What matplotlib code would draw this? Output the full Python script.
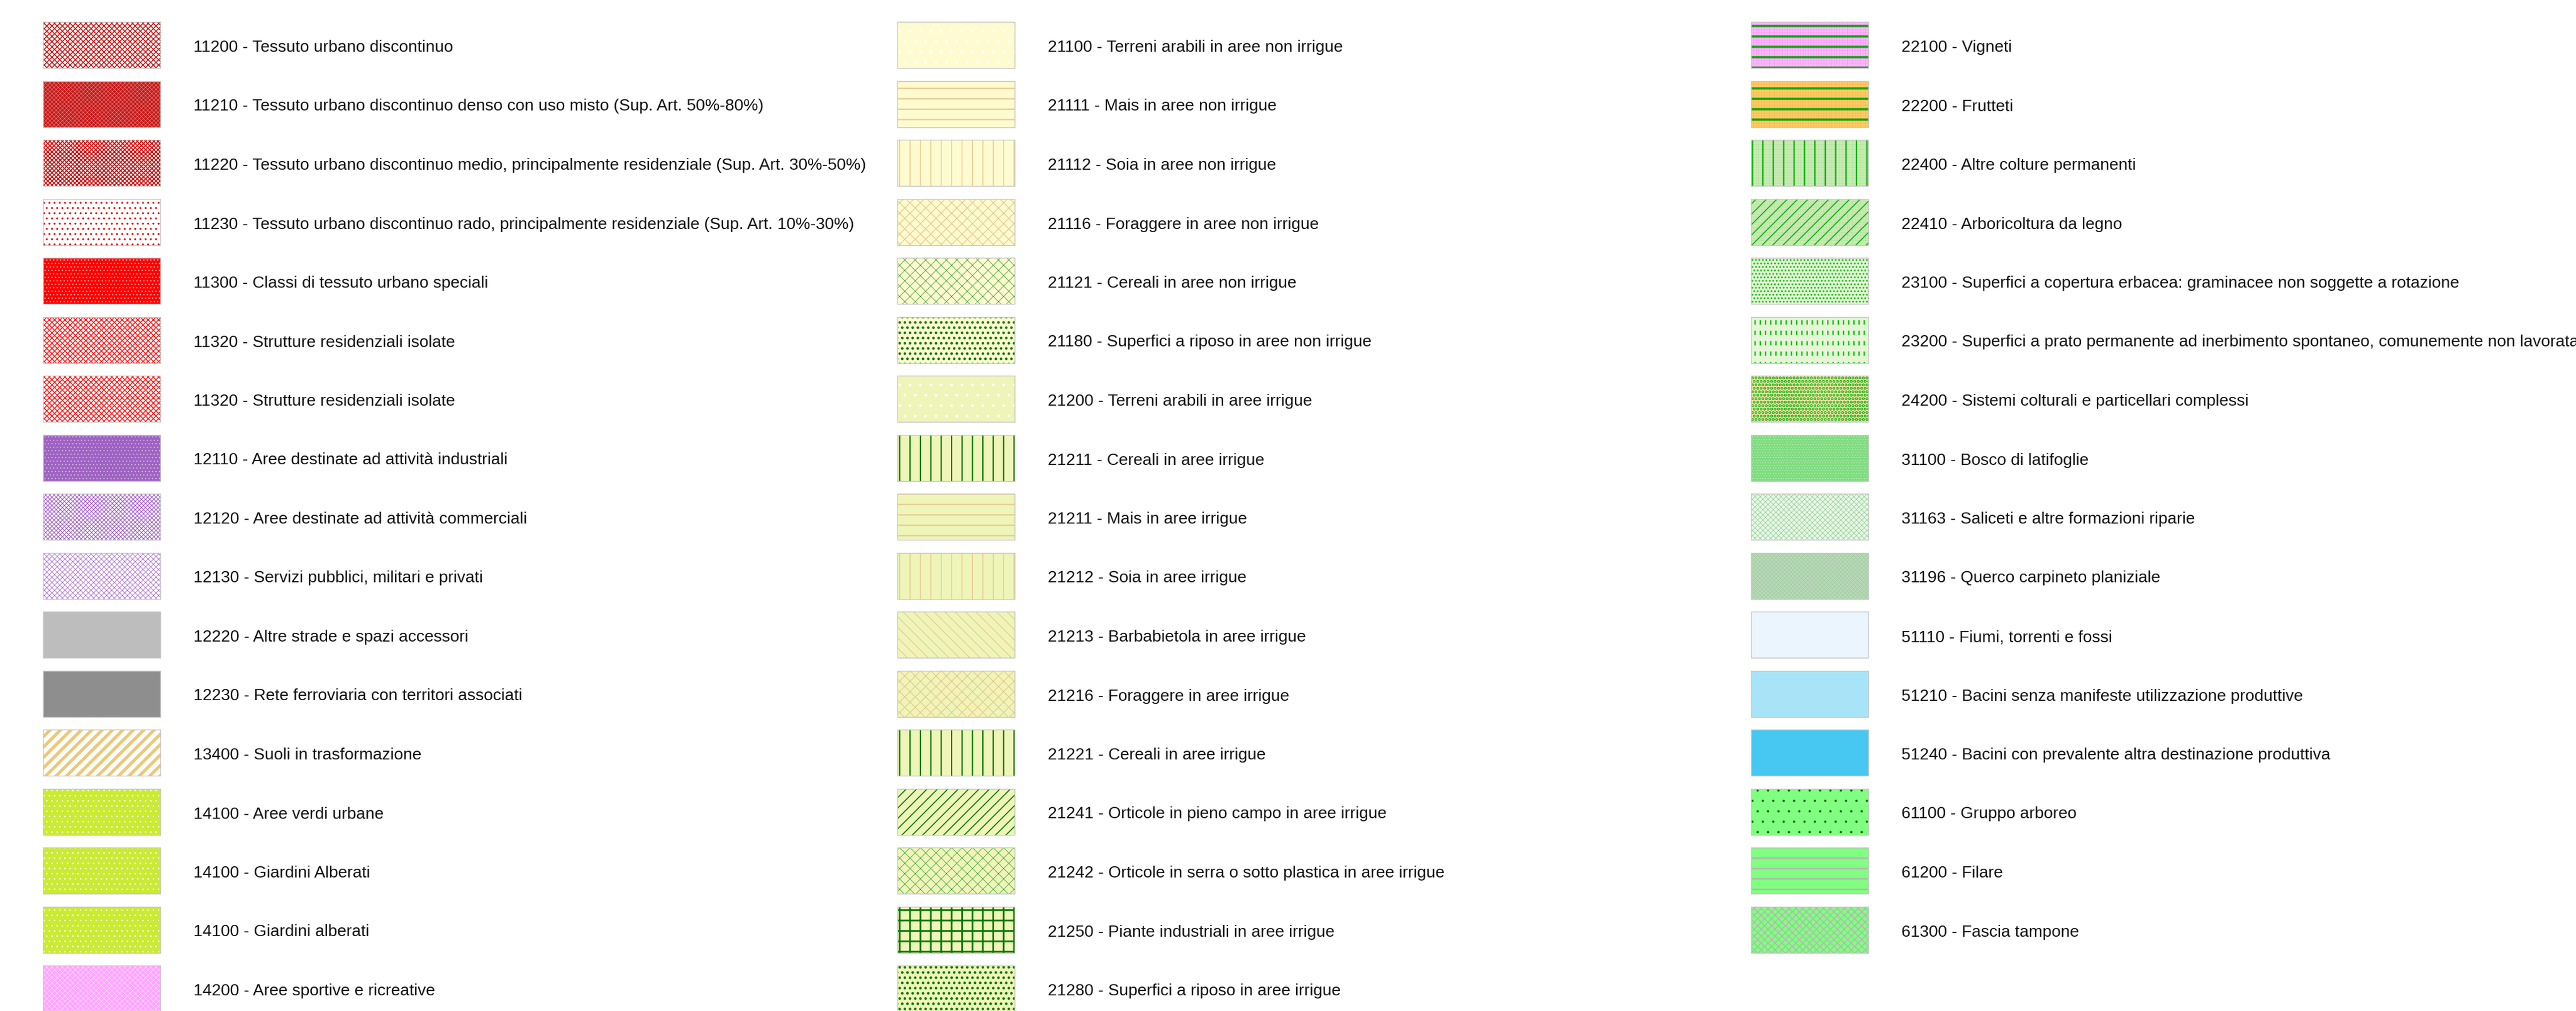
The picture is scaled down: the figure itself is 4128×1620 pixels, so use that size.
import matplotlib
matplotlib.use("Agg")
import matplotlib.pyplot as plt
from matplotlib.patches import Rectangle

# legenda uso del suolo - tre colonne
col1_codes = ["11200", "11210", "11220", "11230", "11300", "11320", "11320",
              "12110", "12120", "12130", "12220", "12230", "13400",
              "14100", "14100", "14100", "14200"]
col1_names = [
    "Tessuto urbano discontinuo",
    "Tessuto urbano discontinuo denso con uso misto (Sup. Art. 50%-80%)",
    "Tessuto urbano discontinuo medio, principalmente residenziale (Sup. Art. 30%-50%)",
    "Tessuto urbano discontinuo rado, principalmente residenziale (Sup. Art. 10%-30%)",
    "Classi di tessuto urbano speciali",
    "Strutture residenziali isolate",
    "Strutture residenziali isolate",
    "Aree destinate ad attività industriali",
    "Aree destinate ad attività commerciali",
    "Servizi pubblici, militari e privati",
    "Altre strade e spazi accessori",
    "Rete ferroviaria con territori associati",
    "Suoli in trasformazione",
    "Aree verdi urbane",
    "Giardini Alberati",
    "Giardini alberati",
    "Aree sportive e ricreative",
]

col2_codes = ["21100", "21111", "21112", "21116", "21121", "21180", "21200",
              "21211", "21211", "21212", "21213", "21216", "21221",
              "21241", "21242", "21250", "21280"]
col2_names = [
    "Terreni arabili in aree non irrigue",
    "Mais in aree non irrigue",
    "Soia in aree non irrigue",
    "Foraggere in aree non irrigue",
    "Cereali in aree non irrigue",
    "Superfici a riposo in aree non irrigue",
    "Terreni arabili in aree irrigue",
    "Cereali in aree irrigue",
    "Mais in aree irrigue",
    "Soia in aree irrigue",
    "Barbabietola in aree irrigue",
    "Foraggere in aree irrigue",
    "Cereali in aree irrigue",
    "Orticole in pieno campo in aree irrigue",
    "Orticole in serra o sotto plastica in aree irrigue",
    "Piante industriali in aree irrigue",
    "Superfici a riposo in aree irrigue",
]

col3_codes = ["22100", "22200", "22400", "22410", "23100", "23200", "24200",
              "31100", "31163", "31196", "51110", "51210", "51240",
              "61100", "61200", "61300"]
col3_names = [
    "Vigneti",
    "Frutteti",
    "Altre colture permanenti",
    "Arboricoltura da legno",
    "Superfici a copertura erbacea: graminacee non soggette a rotazione",
    "Superfici a prato permanente ad inerbimento spontaneo, comunemente non lavorata",
    "Sistemi colturali e particellari complessi",
    "Bosco di latifoglie",
    "Saliceti e altre formazioni riparie",
    "Querco carpineto planiziale",
    "Fiumi, torrenti e fossi",
    "Bacini senza manifeste utilizzazione produttive",
    "Bacini con prevalente altra destinazione produttiva",
    "Gruppo arboreo",
    "Filare",
    "Fascia tampone",
]

# stili: (colore di fondo, [(hatch, colore hatch, spessore), ...])
cream = "#fffbd0"
yg = "#eff5b9"
tan = "#e8c890"
dkgreen = "#0a780a"
dotgreen = "#40a040"

col1_styles = [
    ("white", [("xxxx", "#cc0000", 1.0)]),
    ("#c41818", [("xxxxx", "#e88080", 0.5)]),
    ("white", [("xxxxx", "#cc0000", 1.1)]),
    ("white", [("..", "#dd0000", 1.0)]),
    ("#ff0000", [("...", "#ffb0b0", 0.8)]),
    ("white", [("xxxx", "#ff1010", 1.0)]),
    ("white", [("xxxx", "#ff1010", 1.0)]),
    ("#9e62c2", [("...", "#d8c0e8", 0.6)]),
    ("white", [("xxxxx", "#a060c8", 0.8)]),
    ("white", [("xxxx", "#a868d0", 0.6)]),
    ("#bdbdbd", []),
    ("#8e8e8e", []),
    ("white", [("//", "#ecc878", 3.6)]),
    ("#caea34", [("..", "white", 0.6)]),
    ("#caea34", [("..", "white", 0.6)]),
    ("#caea34", [("..", "white", 0.6)]),
    ("#ffa4ff", [("xxxx", "#ffd8ff", 0.6)]),
]

col2_styles = [
    (cream, [(".", "white", 0.5)]),
    (cream, [("-", tan, 1.5)]),
    (cream, [("|", tan, 1.0)]),
    (cream, [("xx", tan, 0.9)]),
    (cream, [("xx", dotgreen, 0.6)]),
    (cream, [("..", dkgreen, 1.8)]),
    (yg, [(".", "white", 0.6)]),
    (yg, [("|", dkgreen, 1.5)]),
    (yg, [("-", tan, 1.5)]),
    (yg, [("|", tan, 1.0)]),
    (yg, [("\\\\", tan, 0.9)]),
    (yg, [("xx", tan, 0.9)]),
    (yg, [("|", dkgreen, 1.5)]),
    (yg, [("//", dkgreen, 1.2)]),
    (yg, [("xx", dotgreen, 0.6)]),
    (yg, [("+", dkgreen, 2.0)]),
    (yg, [("..", dkgreen, 1.8)]),
]

col3_styles = [
    ("#ffb8ff", [("++++", "#ee88ee", 0.3), ("-", "#10a810", 2.5)]),
    ("#ffcc66", [("++++", "#f0b040", 0.3), ("-", "#10a810", 2.5)]),
    ("#c8ecb4", [("++++", "#b0dc98", 0.3), ("|", "#10b010", 1.6)]),
    ("#c8ecb4", [("++++", "#b0dc98", 0.3), ("//", "#10b010", 1.2)]),
    ("#e4f6d6", [("...", "#10c010", 1.3)]),
    ("#e4f6d6", [("||", "#10c010", 1.6), ("-", "#e4f6d6", 7.0)]),
    ("#fbe3a8", [("...", "#10b010", 2.4)]),
    ("#80dc80", [("....", "#c8f0c8", 0.4)]),
    ("#eaf6ea", [("xxxx", "#90d090", 0.6)]),
    ("#b8d8b8", [("xxxxx", "#98c898", 0.4)]),
    ("#eaf5fd", []),
    ("#a8e4f8", []),
    ("#46c8f2", []),
    ("#80ff80", [(".", "#106010", 0.2)]),
    ("#80ff80", [("-", "#b4b4b4", 1.5)]),
    ("#80ff80", [("xxx", "#b4b4b4", 1.0)]),
]

columns = [
    (col1_codes, col1_names, col1_styles),
    (col2_codes, col2_names, col2_styles),
    (col3_codes, col3_names, col3_styles),
]

# layout in pixel
W, H = 4128, 1620
col_x = [69, 1438, 2806]
sw_w, sw_h = 188, 74
top = 35
pitch = 94.5
text_dx = 241

fig = plt.figure(figsize=(W / 100, H / 100), dpi=100)
ax = fig.add_axes([0, 0, 1, 1])
ax.set_xlim(0, W)
ax.set_ylim(H, 0)
ax.axis("off")


def add_hatch(x, y, hatch, color, lw):
    p = Rectangle((x, y), sw_w, sw_h, facecolor="none", edgecolor=color,
                  linewidth=0, hatch=hatch)
    if hasattr(p, "set_hatch_linewidth"):
        p.set_hatch_linewidth(lw)
        ax.add_patch(p)
    else:
        with plt.rc_context({"hatch.linewidth": lw}):
            ax.add_patch(p)


for ci, (codes, names, styles) in enumerate(columns):
    x0 = col_x[ci]
    for ri, (code, name, (face, layers)) in enumerate(zip(codes, names, styles)):
        y0 = top + ri * pitch
        ax.add_patch(Rectangle((x0, y0), sw_w, sw_h, facecolor=face, linewidth=0))
        for hatch, hcol, hlw in layers:
            add_hatch(x0, y0, hatch, hcol, hlw)
        ax.add_patch(Rectangle((x0, y0), sw_w, sw_h, facecolor="none",
                               edgecolor="#c8c8c8", linewidth=1.0))
        ax.text(x0 + text_dx, y0 + sw_h / 2 + 4, f"{code} - {name}",
                fontsize=19.0, family="Liberation Sans", color="#111111",
                va="center", ha="left")

fig.savefig("out.png", dpi=100, facecolor="white")
